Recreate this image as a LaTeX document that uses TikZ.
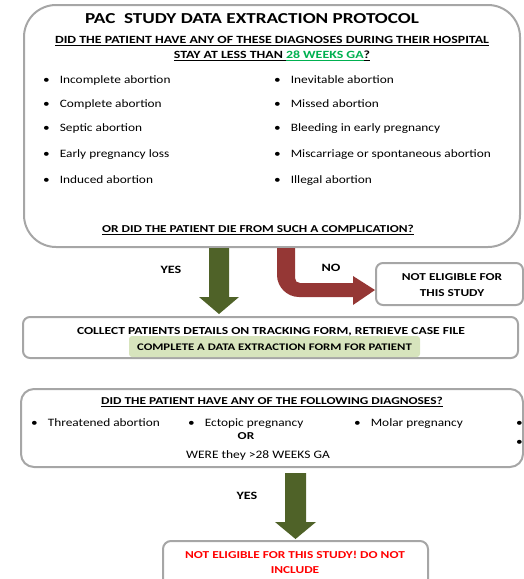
\documentclass[tikz,border=0pt]{standalone}
\usepackage{fontspec}
\setmainfont{Carlito}[FakeStretch=1.18, BoldFeatures={FakeStretch=1.26}]
\definecolor{boxgray}{HTML}{A6A6A6}
\definecolor{arrgreen}{HTML}{4F6228}
\definecolor{arrred}{HTML}{953735}
\definecolor{hlgreen}{HTML}{D7E4BD}
\definecolor{txtgreen}{HTML}{00B050}
\definecolor{txtred}{HTML}{FF0000}
\tikzset{
  frame/.style={draw=boxgray, line width=2pt},
  lbl/.style={inner sep=0pt, anchor=base west},
  clbl/.style={inner sep=0pt, anchor=base},
  bul/.style={inner sep=0pt, anchor=base west, font=\fontsize{11.3}{13}\selectfont},
  qfont/.style={font=\bfseries\fontsize{11}{13}\selectfont},
}
\begin{document}
\begin{tikzpicture}[x=1pt,y=-1pt]
\useasboundingbox (0,0) rectangle (524,579);
% boxes
\draw[frame, rounded corners=32pt] (24,5) rectangle (520,247);
\draw[frame, rounded corners=7pt] (376,263) rectangle (523,305);
\draw[frame, rounded corners=7pt] (23,317) rectangle (518,358);
\fill[hlgreen, rounded corners=3pt] (129,336) rectangle (420,357);
\draw[frame, rounded corners=13pt] (21,389) rectangle (523,467);
\draw[frame, rounded corners=8pt] (163,541) rectangle (428,590);
% arrows
\fill[arrgreen] (209,248) -- (229,248) -- (229,297) -- (239,297) -- (219,314) -- (199,297) -- (209,297) -- cycle;
\fill[arrred] (277,248) -- (277,275) .. controls (277,287) and (287,297) .. (299,297)
  -- (353,297) -- (353,305) -- (375,290) -- (353,276) -- (353,283) -- (300,283)
  .. controls (297,283) and (295,281) .. (295,278) -- (295,248) -- cycle;
\fill[arrgreen] (285,473) -- (306,473) -- (306,522) -- (316,522) -- (295.5,539) -- (275,522) -- (285,522) -- cycle;
% top box texts
\node[clbl, font=\bfseries\fontsize{15.2}{18}\selectfont] (title) at (252,23.5) {PAC\ \ STUDY DATA EXTRACTION PROTOCOL};
\node[clbl, qfont] (q1) at (272,43.5) {\underline{DID THE PATIENT HAVE ANY OF THESE DIAGNOSES DURING THEIR HOSPITAL}};
\node[clbl, qfont] (q2) at (272,58.5) {\underline{STAY AT LESS THAN }\textcolor{txtgreen}{\underline{28 WEEKS GA}}\underline{?}};
\node[bul] (l1) at (43,83.5) {•\hspace{10pt}Incomplete abortion};
\node[bul] (l2) at (43,107.5) {•\hspace{10pt}Complete abortion};
\node[bul] (l3) at (43,131.5) {•\hspace{10pt}Septic abortion};
\node[bul] (l4) at (43,157.5) {•\hspace{10pt}Early pregnancy loss};
\node[bul] (l5) at (43,183.5) {•\hspace{10pt}Induced abortion};
\node[bul] (r1) at (274,83.5) {•\hspace{10pt}Inevitable abortion};
\node[bul] (r2) at (274,107.5) {•\hspace{10pt}Missed abortion};
\node[bul] (r3) at (274,131.5) {•\hspace{10pt}Bleeding in early pregnancy};
\node[bul] (r4) at (274,157.5) {•\hspace{10pt}Miscarriage or spontaneous abortion};
\node[bul] (r5) at (274,183.5) {•\hspace{10pt}Illegal abortion};
\node[clbl, font=\bfseries\fontsize{10.6}{13}\selectfont] (q3) at (258,232.5) {\underline{OR DID THE PATIENT DIE FROM SUCH A COMPLICATION?}};
% arrow labels
\node[clbl, font=\bfseries\fontsize{11.2}{13}\selectfont] (yes1) at (171,273) {YES};
\node[clbl, font=\bfseries\fontsize{11.2}{13}\selectfont] (no) at (331,271) {NO};
\node[clbl, font=\bfseries\fontsize{10.6}{13}\selectfont] (ne1) at (452,280) {NOT ELIGIBLE FOR};
\node[clbl, font=\bfseries\fontsize{10.6}{13}\selectfont] (ne2) at (452,296) {THIS STUDY};
% collect box
\node[clbl, font=\bfseries\fontsize{10.75}{13}\selectfont] (c1) at (271,334) {COLLECT PATIENTS DETAILS ON TRACKING FORM, RETRIEVE CASE FILE};
\node[clbl, font=\bfseries\fontsize{10.1}{13}\selectfont] (c2) at (274.5,350) {COMPLETE A DATA EXTRACTION FORM FOR PATIENT};
% second question box
\node[clbl, font=\bfseries\fontsize{10.6}{13}\selectfont] (d1) at (272,404.5) {\underline{DID THE PATIENT HAVE ANY OF THE FOLLOWING DIAGNOSES?}};
\node[bul] (b1) at (31,426.5) {•\hspace{10pt}Threatened abortion};
\node[bul] (b2) at (188,426.5) {•\hspace{10pt}Ectopic pregnancy};
\node[bul] (b3) at (354,426.5) {•\hspace{10pt}Molar pregnancy};
\node[bul] (b4) at (516,426.5) {•};
\node[bul] (b5) at (516,445) {•};
\node[clbl, font=\bfseries\fontsize{10.6}{13}\selectfont] (or) at (246,439.5) {OR};
\node[clbl, font=\fontsize{11.4}{13}\selectfont] (were) at (258,458.5) {WERE they >28 WEEKS GA};
\node[clbl, font=\bfseries\fontsize{11.2}{13}\selectfont] (yes2) at (247,499) {YES};
% bottom box
\node[clbl, text=txtred, font=\bfseries\fontsize{10.6}{13}\selectfont] (ne3) at (295,558) {NOT ELIGIBLE FOR THIS STUDY! DO NOT};
\node[clbl, text=txtred, font=\bfseries\fontsize{10.6}{13}\selectfont] (ne4) at (295,573) {INCLUDE};
\end{tikzpicture}
\end{document}
